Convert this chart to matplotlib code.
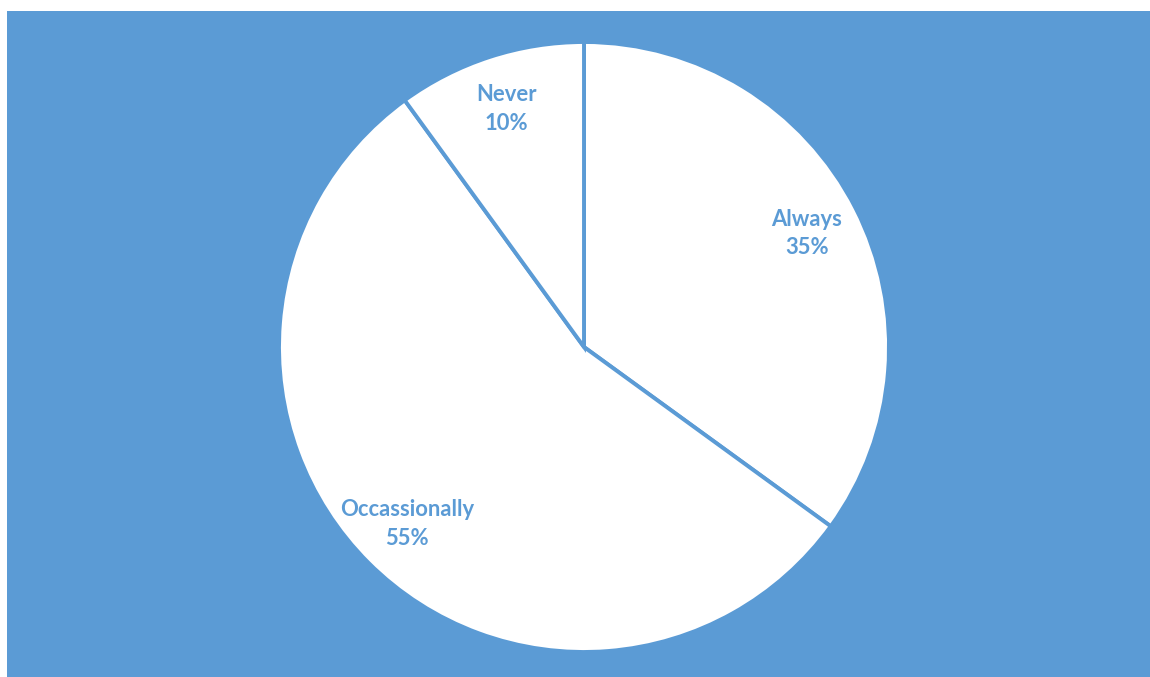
import matplotlib.pyplot as plt
from matplotlib.patches import Rectangle

# Survey answers
categories = ["Always", "Occassionally", "Never"]
shares = [35, 55, 10]

blue = "#5B9BD5"
W, H = 1150, 677

fig = plt.figure(figsize=(W / 100, H / 100), dpi=100)
ax = fig.add_axes([0, 0, 1, 1])

# blue chart area
ax.add_patch(Rectangle((7, 0), W - 7, H - 11, facecolor=blue, edgecolor="none", zorder=0))

labels = [f"{c}\n{s}%" for c, s in zip(categories, shares)]
wedges, texts = ax.pie(
    shares,
    labels=labels,
    colors=["white"] * len(shares),
    startangle=90,
    counterclock=False,
    center=(584, H - 347),
    radius=305,
    labeldistance=0.82,
    wedgeprops=dict(edgecolor=blue, linewidth=2.8),
    textprops=dict(color=blue, fontsize=15.8, fontweight="bold", family="Lato"),
    frame=True,
)
for t in texts:
    t.set_horizontalalignment("center")
    t.set_verticalalignment("center")
    t.set_multialignment("center")
    t.set_linespacing(1.45)

ax.set_xlim(0, W)
ax.set_ylim(0, H)
ax.set_aspect("equal")
ax.axis("off")

fig.savefig("out.png", dpi=100, facecolor="white")
